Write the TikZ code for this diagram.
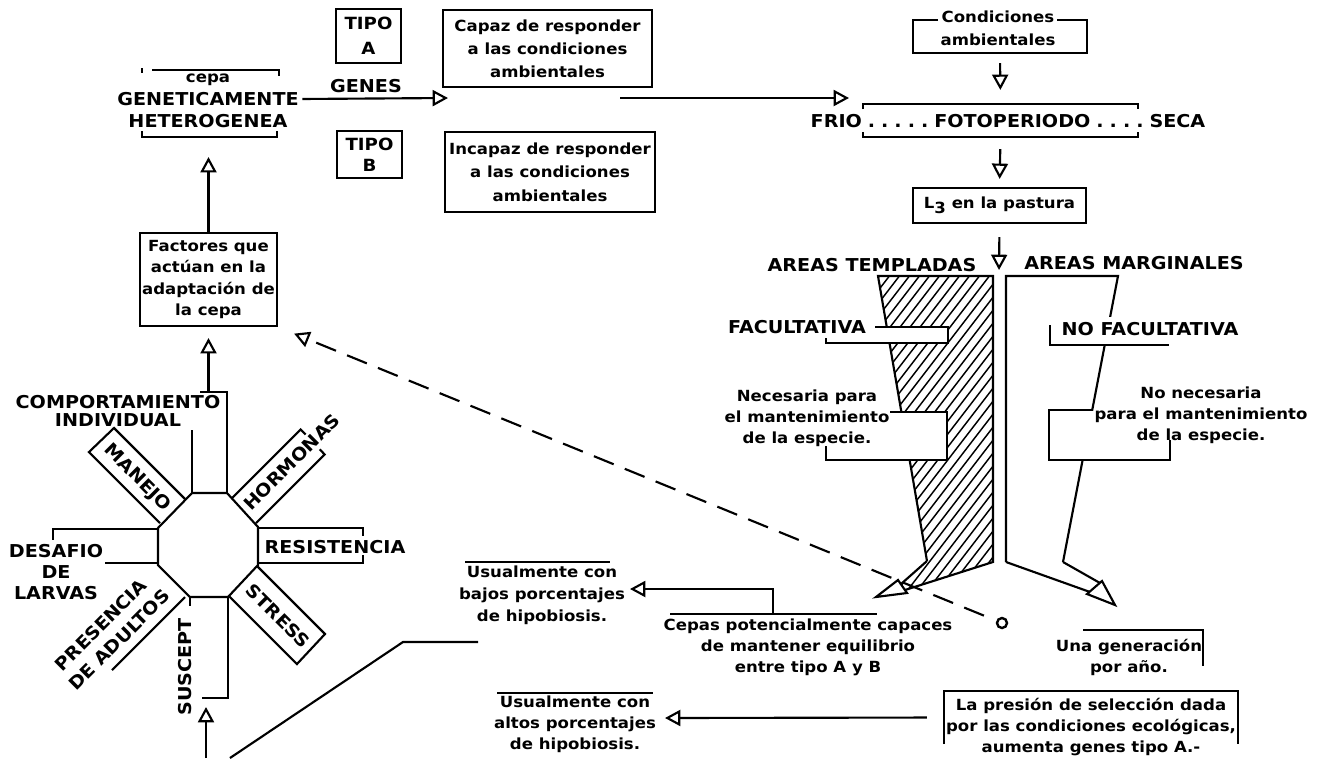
\documentclass[tikz,border=0pt]{standalone}
\usepackage{fontspec}
\setmainfont{DejaVu Sans}[FakeStretch=1.08]
\usetikzlibrary{arrows.meta}
\newcommand\fsz[2]{\fontsize{#1}{#2}\selectfont\bfseries}
\newcommand\dd{\hspace{4.5pt}.}
\begin{document}
\begin{tikzpicture}[x=0.75pt,y=-0.75pt, line width=1.6pt,
  caps/.style={font={\fsz{13.3}{16}}, inner sep=0pt, align=center},
  low/.style={font={\fsz{11.5}{16}}, inner sep=0pt, align=center},
  box/.style={draw, inner sep=0pt, align=center},
  sz/.style 2 args={minimum width={#1*0.75pt}, minimum height={#2*0.75pt}, inner sep=0pt},
  arr/.style={-{Triangle[open,length=11.5pt,width=12pt]}},
  dsh/.style={dash pattern=on 16pt off 9pt},
  hatch/.style={line width=1.1pt}]
\useasboundingbox (0,0) rectangle (1318,758);

% ---------- top left: cepa geneticamente heterogenea ----------
\node[low] (cepa) at (208,80) {cepa};
\node[caps] (gen) at (208,99) {GENETICAMENTE};
\node[caps] (het) at (208,121) {HETEROGENEA};
\node[sz={138}{67}] (heterobox) at (208.5,103.5) {};
\draw (142,68) -- (142,73);
\draw (152,70) -- (279,70) -- (279,76);
\draw (142,131) -- (142,137) -- (277,137) -- (277,131);
\node[caps] (genes) at (366,86) {GENES};
\coordinate (split) at (448,98);
\draw[arr, shorten <=2pt] (gen.east) -- (split);

\node[box, font={\fsz{12.6}{18.75}}, sz={65}{54}] (tipoa) at (368.5,36) {TIPO\\A};
\node[box, font={\fsz{12.6}{15.75}}, sz={65}{47}] (tipob) at (369.5,154.5) {TIPO\\B};

\node[box, font={\fsz{11.5}{17.25}}, sz={209}{77}] (capaz) at (547.5,48.5) {Capaz de responder\\a las condiciones\\ambientales};
\node[box, font={\fsz{11.5}{17.6}}, sz={210}{80}] (incapaz) at (550,172) {Incapaz de responder\\a las condiciones\\ambientales};

\coordinate (capazout) at (620,98);
\coordinate (fotoin) at (849,98);
\draw[arr] (capazout) -- (fotoin);

% ---------- top right ----------
\node[sz={174}{33}] (condbox) at (1000,36.5) {};
\node[low, font={\fsz{11.5}{17.25}}] (cond) at (998,28.5) {Condiciones\\ambientales};
\draw (938,20) -- (913,20) -- (913,53) -- (1087,53) -- (1087,20) -- (1057,20);

\node[sz={275}{33}] (fotobox) at (1000.5,120.5) {};
\node[caps] (foto) at (1008,121) {FRIO\dd\dd\dd\dd\dd\hspace{4.5pt}FOTOPERIODO\dd\dd\dd\dd\hspace{4.5pt}SECA};
\draw (863,109) -- (863,104) -- (1138,104) -- (1138,109);
\draw (863,132) -- (863,137) -- (1138,137) -- (1138,132);
\draw[arr, shorten <=6.75pt, shorten >=9.75pt] (condbox.south) -- (fotobox.north);

\node[box, low, sz={173}{35}] (lthree) at (999.5,205.5) {L\raisebox{-0.55ex}{3} en la pastura};
\draw[arr, shorten <=8.25pt, shorten >=6pt] (fotobox.south) -- (lthree.north);
\coordinate (areasplit) at (999,270);
\draw[arr, shorten <=9.75pt] (lthree.south) -- (areasplit);

\node[caps] (templ) at (872,265) {AREAS TEMPLADAS};
\node[caps] (margi) at (1134,263) {AREAS MARGINALES};

% ---------- hatched funnel (areas templadas) ----------
\begin{scope}
\clip (878,276) -- (993,276) -- (993,562) -- (905,590) -- (901,584) -- (927,561) -- cycle;
\foreach \c in {600,610,...,990} \draw[hatch] (\c,600) -- ({\c+254},270);
\end{scope}
\draw (927,561) -- (878,276) -- (993,276) -- (993,562) -- (905,590);
\draw (927,561) -- (901,584);
\draw[fill=white] (898,580) -- (876,597) -- (907,593) -- cycle;
\fill[white] (878,327) rectangle (948,343);
\draw (875,327) -- (948,327) -- (948,343) -- (826,343) -- (826,338);
\fill[white] (880,412) rectangle (947,460);
\draw (890,412) -- (947,412) -- (947,460) -- (826,460) -- (826,446);

% ---------- outline funnel (areas marginales) ----------
\draw (1006,562) -- (1006,276) -- (1118,276) -- (1063,562);
\fill[white] (1052,317) rectangle (1169,344);
\fill[white] (1050,411) rectangle (1169,459);
\draw (1050,325) -- (1050,345) -- (1169,345);
\draw (1093,410) -- (1049,410) -- (1049,460) -- (1170,460) -- (1170,440);
\draw (1006,562) -- (1090,592);
\draw (1063,562) -- (1100,583);
\draw[fill=white] (1087,594) -- (1115,605) -- (1102,581) -- cycle;

\node[caps] (facu) at (797,327) {FACULTATIVA};
\node[caps] (nofacu) at (1150,329) {NO FACULTATIVA};
\node[low, font={\fsz{11.5}{15.75}}] (nec) at (807,418) {Necesaria para\\el mantenimiento\\de la especie.};
\node[low, font={\fsz{11.5}{15.75}}] (nonec) at (1201,415) {No necesaria\\para el mantenimiento\\de la especie.};

% ---------- factores ----------
\node[box, font={\fsz{11.5}{16}}, sz={137}{93}] (fact) at (208.5,279.5) {Factores que\\actúan en la\\adaptación de\\la cepa};
\draw[arr, shorten >=14.25pt] (fact.north) -- (heterobox.south);

\node[caps, font={\fsz{13.3}{13.5}}] (comp) at (118,411) {COMPORTAMIENTO\\INDIVIDUAL};
\coordinate (comptop) at (208.5,392);
\draw[arr, shorten >=8.25pt] (comptop) -- (fact.south);
\draw (200,392) -- (227,392) -- (227,493);
\draw (192,430) -- (192,493);

% ---------- octagon and rays ----------
\draw (192,493) -- (227,493) -- (258,527) -- (258,565) -- (228,597) -- (190,597) -- (158,565) -- (158,528) -- cycle;

\draw (160,523) -- (89,452) -- (114,428) -- (185,499);
\node[caps, rotate=-45] (manejo) at (137,478) {MANEJO};

\draw (232,498) -- (300.6,429.4) -- (305.5,434.5);
\draw (256,523) -- (324.6,454.4) -- (319.7,449.3);
\node[caps, rotate=45] (horm) at (292,462) {HORMONAS};

\draw (258,528) -- (363,528) -- (363,536);
\draw (258,563) -- (363,563) -- (363,555);
\node[caps] (resis) at (335,547) {RESISTENCIA};

\draw (257,566) -- (325,634) -- (297,664) -- (229,596);
\node[caps, rotate=-45] (stress) at (278,616) {STRESS};

\node[caps, rotate=45] (presen) at (101,625) {PRESENCIA};
\node[caps, rotate=45] (adul) at (119,640) {DE ADULTOS};
\draw (185,597) -- (112,670);

\node[caps, rotate=90] (susc) at (185,667) {SUSCEPT};
\draw (190,597) -- (190,606);
\draw (228,597) -- (228,698) -- (202,698);
\coordinate (suscin) at (206,707);
\coordinate (bot1) at (206,758);
\draw[arr] (bot1) -- (suscin);
\coordinate (bot2) at (230,758);
\coordinate (stub) at (478,642);
\draw (bot2) -- (403,642) -- (stub);

\node[caps, font={\fsz{13.3}{16}}] (desaf) at (56,572) {DESAFIO\\DE\\LARVAS};
\draw (158,529) -- (53,529) -- (53,540);
\draw (158,563) -- (105,563);

% ---------- bottom middle ----------
\node[low, font={\fsz{11.5}{16.5}}] (usu1) at (542,595) {Usualmente con\\bajos porcentajes\\de hipobiosis.};
\draw (465,562) -- (610,562);
\node[low, font={\fsz{11.5}{15.75}}] (cepas) at (808,647) {Cepas potencialmente capaces\\de mantener equilibrio\\entre tipo A y B};
\draw (670,614) -- (877,614);
\coordinate (cepastop) at (773,614);
\coordinate (usu1in) at (630,589);
\draw[arr] (cepastop) |- (usu1in);

\node[low, font={\fsz{11.5}{15.75}}] (usu2) at (575,724) {Usualmente con\\altos porcentajes\\de hipobiosis.};
\draw (497,693) -- (653,693);

\node[sz={292}{51}] (presbox) at (1091,717.5) {};
\node[low, font={\fsz{11.5}{16}}] (presion) at (1091,727) {La presión de selección dada\\por las condiciones ecológicas,\\aumenta genes tipo A.-};
\draw (presbox.south west) -- (presbox.north west) -- (presbox.north east) -- (presbox.south east);
\coordinate (usu2in) at (665,718);
\draw[arr, shorten <=12.75pt] (presbox.west) -- (usu2in);

\node[low, font={\fsz{11.5}{15.75}}] (unag) at (1129,657) {Una generación\\por año.};
\draw (1083,630) -- (1203,630) -- (1203,666);

\node[circle, draw, line width=1.8pt, inner sep=0pt, minimum size=7.5pt] (ring) at (1002,623) {};
\draw[arr, dsh, shorten <=10pt, shorten >=13pt] (ring) -- (fact.south east);
\end{tikzpicture}
\end{document}
